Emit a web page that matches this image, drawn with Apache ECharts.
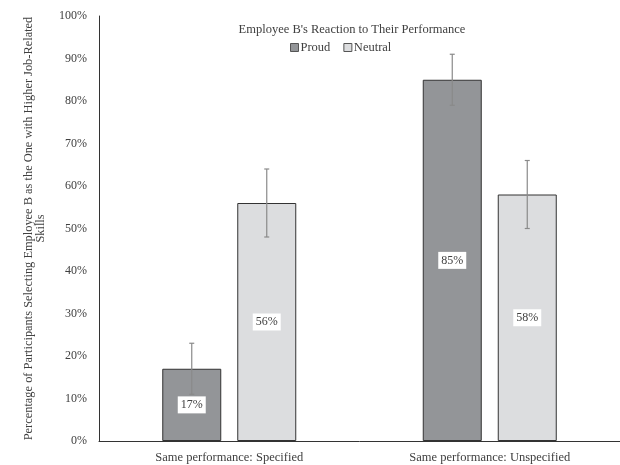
<!DOCTYPE html>
<html>
<head>
<meta charset="utf-8">
<script src="https://cdn.jsdelivr.net/npm/echarts@6/dist/echarts.min.js"></script>
<style>html,body{margin:0;padding:0;background:#fff;}#c{width:620px;height:465px;}</style>
</head>
<body>
<div id="c"></div>
<script>
var categories = ['Same performance: Specified', 'Same performance: Unspecified'];
var seriesNames = ['Proud', 'Neutral'];
var proudValues = [17, 85];
var neutralValues = [56, 58];
var proudErr = [6, 6];
var neutralErr = [8, 8];
var yTicks = [0, 10, 20, 30, 40, 50, 60, 70, 80, 90, 100];

var FONT = '"Liberation Serif", "Times New Roman", serif';
var BAR_W = 59, GAP = 16;
var chart = echarts.init(document.getElementById('c'));

function errSeries(name, vals, errs, offset) {
  return {
    type: 'custom',
    name: name + ' err',
    z: 10,
    silent: true,
    data: vals.map(function (v, i) { return [i, v - errs[i], v + errs[i]]; }),
    renderItem: function (params, api) {
      var lo = api.coord([api.value(0), api.value(1)]);
      var hi = api.coord([api.value(0), api.value(2)]);
      var x = lo[0] + offset;
      var st = { stroke: '#8a8a8a', lineWidth: 1.2 };
      return {
        type: 'group',
        children: [
          { type: 'line', shape: { x1: x, y1: lo[1], x2: x, y2: hi[1] }, style: st },
          { type: 'line', shape: { x1: x - 2.5, y1: lo[1], x2: x + 2.5, y2: lo[1] }, style: st },
          { type: 'line', shape: { x1: x - 2.5, y1: hi[1], x2: x + 2.5, y2: hi[1] }, style: st }
        ]
      };
    }
  };
}

var labelStyle = {
  show: true, position: 'inside',
  formatter: '{c}%', backgroundColor: '#fff', padding: [3, 3, 2, 3],
  color: '#404040', fontFamily: FONT, fontSize: 12
};

chart.setOption({
  animation: false,
  textStyle: { fontFamily: FONT },
  title: {
    text: "Employee B's Reaction to Their Performance",
    left: 347, top: 18, textAlign: 'center',
    textStyle: { fontFamily: FONT, fontSize: 12.5, fontWeight: 'normal', color: '#404040' }
  },
  legend: {
    data: seriesNames,
    left: 285, top: 36,
    icon: 'rect', itemWidth: 8, itemHeight: 8, itemGap: 13,
    itemStyle: { borderColor: '#555', borderWidth: 1 },
    textStyle: { fontFamily: FONT, fontSize: 12.5, color: '#404040', padding: [0, 0, 0, -3] }
  },
  grid: { left: 99, right: 0, top: 16, bottom: 24, containLabel: false },
  xAxis: {
    type: 'category', data: categories,
    axisLine: { lineStyle: { color: '#333', width: 1 } },
    axisTick: { show: false },
    axisLabel: { fontFamily: FONT, fontSize: 12.5, color: '#404040', margin: 10 }
  },
  yAxis: {
    type: 'value', min: yTicks[0], max: yTicks[yTicks.length - 1], interval: 10,
    name: 'Percentage of Participants Selecting Employee B as the One with Higher Job-Related\nSkills',
    nameLocation: 'middle', nameGap: 52,
    nameTextStyle: { fontFamily: FONT, fontSize: 12.4, color: '#404040', lineHeight: 12 },
    axisLine: { show: true, lineStyle: { color: '#333', width: 1 } },
    axisTick: { show: false },
    splitLine: { show: false },
    axisLabel: { fontFamily: FONT, fontSize: 12, color: '#404040', margin: 12, formatter: '{value}%' }
  },
  series: [
    {
      type: 'bar', name: seriesNames[0], data: proudValues,
      barWidth: BAR_W, barGap: (GAP / BAR_W * 100) + '%',
      itemStyle: { color: '#939598', borderColor: '#333', borderWidth: 1 },
      label: labelStyle
    },
    {
      type: 'bar', name: seriesNames[1], data: neutralValues,
      barWidth: BAR_W,
      itemStyle: { color: '#dcdddf', borderColor: '#333', borderWidth: 1 },
      label: labelStyle
    },
    errSeries(seriesNames[0], proudValues, proudErr, -(BAR_W + GAP) / 2),
    errSeries(seriesNames[1], neutralValues, neutralErr, (BAR_W + GAP) / 2)
  ]
});
</script>
</body>
</html>
